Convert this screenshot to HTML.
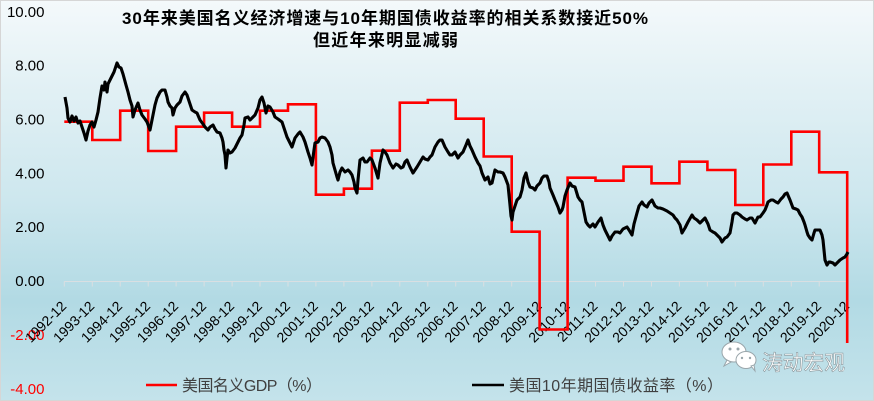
<!DOCTYPE html>
<html>
<head>
<meta charset="utf-8">
<style>
html,body{margin:0;padding:0;background:#fff;}
svg{display:block;}
text{font-family:"Liberation Sans","Noto Sans CJK SC",sans-serif;}
</style>
</head>
<body>
<svg width="874" height="401" viewBox="0 0 874 401" xmlns="http://www.w3.org/2000/svg">
<defs>
<linearGradient id="bg" x1="0" y1="0" x2="0" y2="1">
<stop offset="0" stop-color="#f4f9fb"/>
<stop offset="0.2" stop-color="#e3f1f5"/>
<stop offset="0.5" stop-color="#cde7ee"/>
<stop offset="0.75" stop-color="#b2dae4"/>
<stop offset="1" stop-color="#c4e3eb"/>
</linearGradient>
</defs>
<rect x="0.5" y="0.5" width="873" height="400" fill="url(#bg)" stroke="#d6d6d6" stroke-width="1"/>

<!-- Title -->
<text x="122" y="24" font-size="17" font-weight="bold" fill="#000" textLength="526" lengthAdjust="spacing">30年来美国名义经济增速与10年期国债收益率的相关系数接近50%</text>
<text x="313" y="46" font-size="17" font-weight="bold" fill="#000" textLength="145" lengthAdjust="spacing">但近年来明显减弱</text>

<!-- Y axis labels -->
<g font-size="15" text-anchor="end">
<text x="44.5" y="17" fill="#000">10.00</text>
<text x="44.5" y="70.5" fill="#000">8.00</text>
<text x="44.5" y="124.5" fill="#000">6.00</text>
<text x="44.5" y="178.5" fill="#000">4.00</text>
<text x="44.5" y="232" fill="#000">2.00</text>
<text x="44.5" y="286" fill="#000">0.00</text>
<text x="44.5" y="340" fill="#ff0000">-2.00</text>
<text x="44.5" y="394" fill="#ff0000">-4.00</text>
</g>

<!-- X axis -->
<g stroke="#d9dfe2" stroke-width="1">
<line x1="64.3" y1="281.5" x2="847.2" y2="281.5"/>
<path d="M64.3,281.5v5 M92.3,281.5v5 M120.2,281.5v5 M148.2,281.5v5 M176.1,281.5v5 M204.1,281.5v5 M232.1,281.5v5 M260,281.5v5 M288,281.5v5 M315.9,281.5v5 M343.9,281.5v5 M371.9,281.5v5 M399.8,281.5v5 M427.8,281.5v5 M455.7,281.5v5 M483.7,281.5v5 M511.7,281.5v5 M539.6,281.5v5 M567.6,281.5v5 M595.5,281.5v5 M623.5,281.5v5 M651.5,281.5v5 M679.4,281.5v5 M707.4,281.5v5 M735.3,281.5v5 M763.3,281.5v5 M791.3,281.5v5 M819.2,281.5v5 M847.2,281.5v5" fill="none"/>
</g>

<g font-size="14" fill="#000" text-anchor="end">
<text transform="translate(67.3,307) rotate(-45)">1992-12</text>
<text transform="translate(95.3,307) rotate(-45)">1993-12</text>
<text transform="translate(123.2,307) rotate(-45)">1994-12</text>
<text transform="translate(151.2,307) rotate(-45)">1995-12</text>
<text transform="translate(179.1,307) rotate(-45)">1996-12</text>
<text transform="translate(207.1,307) rotate(-45)">1997-12</text>
<text transform="translate(235.1,307) rotate(-45)">1998-12</text>
<text transform="translate(263,307) rotate(-45)">1999-12</text>
<text transform="translate(291,307) rotate(-45)">2000-12</text>
<text transform="translate(318.9,307) rotate(-45)">2001-12</text>
<text transform="translate(346.9,307) rotate(-45)">2002-12</text>
<text transform="translate(374.9,307) rotate(-45)">2003-12</text>
<text transform="translate(402.8,307) rotate(-45)">2004-12</text>
<text transform="translate(430.8,307) rotate(-45)">2005-12</text>
<text transform="translate(458.7,307) rotate(-45)">2006-12</text>
<text transform="translate(486.7,307) rotate(-45)">2007-12</text>
<text transform="translate(514.7,307) rotate(-45)">2008-12</text>
<text transform="translate(542.6,307) rotate(-45)">2009-12</text>
<text transform="translate(570.6,307) rotate(-45)">2010-12</text>
<text transform="translate(598.5,307) rotate(-45)">2011-12</text>
<text transform="translate(626.5,307) rotate(-45)">2012-12</text>
<text transform="translate(654.5,307) rotate(-45)">2013-12</text>
<text transform="translate(682.4,307) rotate(-45)">2014-12</text>
<text transform="translate(710.4,307) rotate(-45)">2015-12</text>
<text transform="translate(738.3,307) rotate(-45)">2016-12</text>
<text transform="translate(766.3,307) rotate(-45)">2017-12</text>
<text transform="translate(794.3,307) rotate(-45)">2018-12</text>
<text transform="translate(822.2,307) rotate(-45)">2019-12</text>
<text transform="translate(850.2,307) rotate(-45)">2020-12</text>
</g>

<!-- GDP red step line -->
<path fill="none" stroke="#ff0000" stroke-width="2.6" stroke-linejoin="miter"
d="M64.3,121.7 H92.3 V140 H120.2 V110.7 H148.2 V151 H176.1 V126.7 H204.1 V112.7 H232.1 V126.7 H260 V110.7 H288 V104.3 H315.9 V194.7 H343.9 V188.7 H371.9 V150.7 H399.8 V102.7 H427.8 V100 H455.7 V118.7 H483.7 V156.5 H511.7 V231.7 H539.6 V329.5 H567.6 V177.7 H595.5 V180.7 H623.5 V166.7 H651.5 V183.3 H679.4 V161.7 H707.4 V170 H735.3 V205 H763.3 V164.5 H791.3 V131.7 H819.2 V172.3 H847.2 V343"/>

<!-- 10Y yield black line -->
<polyline fill="none" stroke="#000" stroke-width="3.1" stroke-linejoin="round"
points="65,97 67,108 68,118 70,122 72,116 74,121 76,117 78,123 80,121 82,127 84,133 86,140 88,131 90,125 92,122 94,127 96,120 98,112 100,98 102,86 104,90 105,82 107,92 108,84 110,80 112,76 114,72 116,66 117,63 119,67 121,68 123,74 126,85 128,92 130,100 132,106 133,117 135,110 138,103 140,110 142,115 145,119 147,122 150,130 152,120 153,115 155,105 157,98 160,92 162,90 165,90 167,97 168,102 170,106 172,108 173,115 175,108 177,105 180,102 182,96 185,92 187,95 188,98 190,104 192,110 195,112 197,113 200,120 203,124 205,127 208,130 210,127 213,125 215,129 217,132 220,133 222,138 223,142 224,150 225,155 226,168 227,158 228,150 230,153 232,152 235,148 238,142 240,138 242,135 244,125 245,118 248,117 250,120 252,118 255,115 258,108 260,100 262,97 264,103 266,113 268,106 270,107 273,112 275,117 278,119 282,122 284,128 287,137 290,143 292,147 295,138 298,134 300,132 303,137 305,142 308,152 310,158 312,165 314,150 315,143 318,142 320,138 322,137 325,138 328,142 330,147 332,155 333,163 335,170 337,177 338,180 340,172 342,168 345,172 348,170 350,172 352,175 354,182 355,188 357,193 358,180 360,160 363,158 365,162 367,162 370,158 372,160 375,168 378,178 380,163 383,150 385,152 387,155 390,163 393,168 396,164 398,165 401,168 403,167 405,162 407,160 410,167 413,173 415,170 417,167 420,162 423,157 425,159 428,160 430,157 432,155 435,147 438,142 440,140 442,140 445,147 448,152 450,155 452,155 455,152 458,158 460,155 463,152 466,145 468,140 470,146 472,150 475,157 478,163 480,166 482,173 485,180 488,177 490,184 492,183 495,170 498,172 500,172 503,173 505,177 508,185 510,205 511,216 512,220 513,212 515,206 517,200 520,197 522,190 524,178 526,173 528,182 530,187 533,188 535,190 537,186 540,183 542,178 544,176 547,176 549,182 550,188 553,195 555,200 558,207 560,213 562,210 563,207 565,196 567,190 570,183 572,186 575,187 578,197 580,200 582,202 584,212 586,222 588,225 590,227 593,224 595,227 598,222 601,218 603,225 605,230 608,236 610,240 612,236 615,232 618,232 620,233 623,229 627,227 629,230 632,235 634,224 637,213 639,206 642,202 644,205 647,207 649,203 652,200 655,206 658,208 660,208 663,209 667,211 670,213 673,215 675,218 677,220 680,225 682,233 685,228 688,222 692,215 694,218 697,220 700,223 703,220 705,218 708,224 710,230 713,232 715,233 717,235 720,238 722,242 725,238 727,237 730,233 732,222 733,215 735,213 737,213 740,215 742,217 745,219 747,220 750,218 752,218 755,223 758,217 760,217 763,213 765,210 767,205 768,202 771,200 773,200 776,202 778,203 781,199 783,197 785,194 787,193 790,200 793,208 796,209 798,210 800,214 802,217 804,222 805,225 807,232 808,235 810,238 812,240 814,233 815,230 818,230 820,230 822,235 823,240 824,250 825,260 827,265 829,262 830,262 833,263 835,265 838,262 840,260 843,258 845,257 847,254 848,252"/>

<!-- Legend -->
<line x1="146" y1="385" x2="177" y2="385" stroke="#ff0000" stroke-width="2.6"/>
<text x="182" y="391" font-size="16" fill="#404040" textLength="140" lengthAdjust="spacing">美国名义GDP（%）</text>
<line x1="472" y1="385" x2="504" y2="385" stroke="#000" stroke-width="2.6"/>
<text x="509" y="391" font-size="16" fill="#404040" textLength="214" lengthAdjust="spacing">美国10年期国债收益率（%）</text>

<!-- Watermark -->
<g stroke="#9aa6ab" stroke-width="1" fill="#ffffff">
<ellipse cx="734" cy="352" rx="12" ry="10"/>
<path d="M727,360 l-3,6 l7,-4 z"/>
<ellipse cx="746" cy="360" rx="10" ry="8.5"/>
<path d="M751,366 l4,5 l-1,-6 z"/>
</g>
<g fill="#9aa6ab">
<circle cx="730" cy="349" r="1.5"/><circle cx="738" cy="349" r="1.5"/>
<circle cx="742" cy="358" r="1.2"/><circle cx="750" cy="358" r="1.2"/>
</g>
<text x="762" y="370" font-size="21" fill="#ffffff" stroke="#8a979c" stroke-width="0.6" textLength="83" lengthAdjust="spacingAndGlyphs">涛动宏观</text>
</svg>
</body>
</html>
